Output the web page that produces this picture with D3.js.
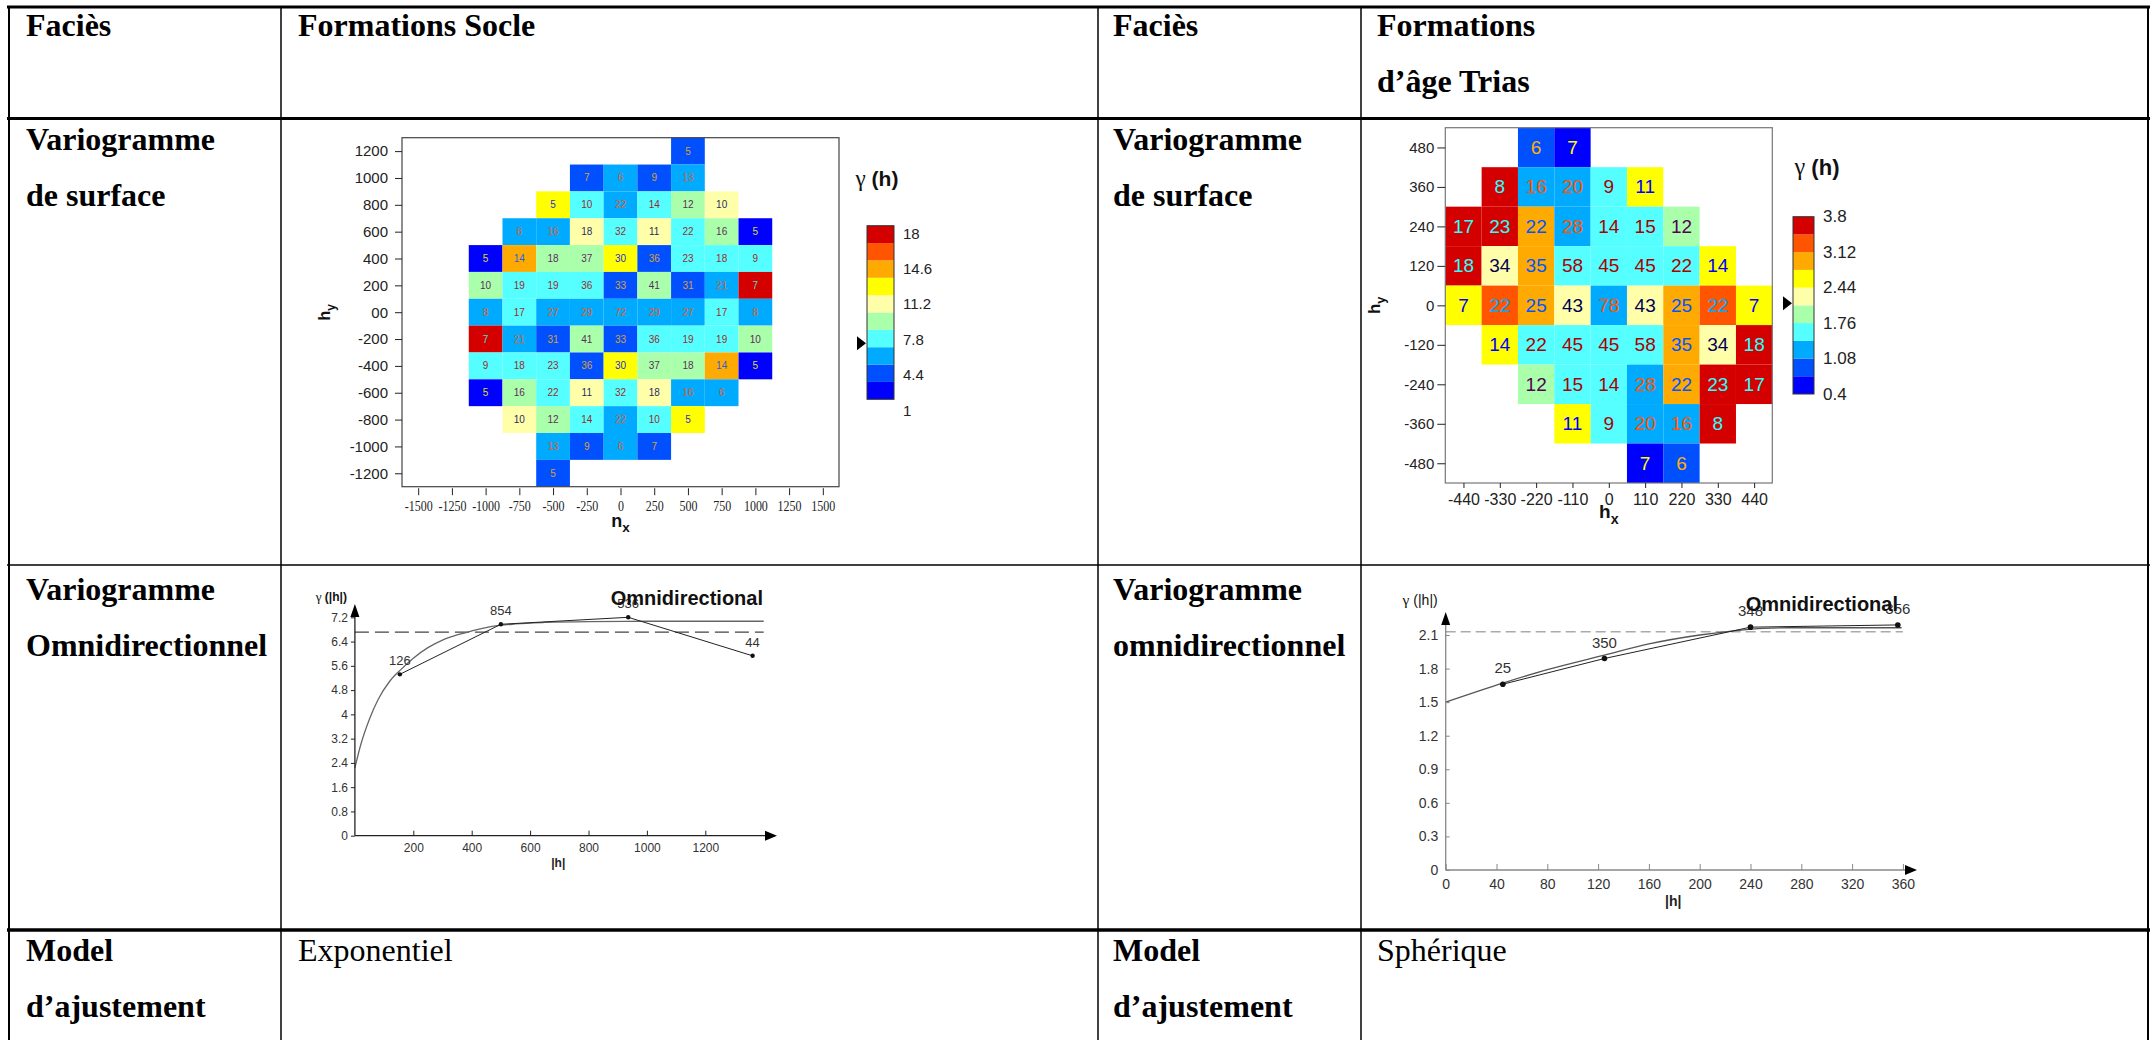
<!DOCTYPE html>
<html>
<head>
<meta charset="utf-8">
<script src="https://cdn.jsdelivr.net/npm/d3@7"></script>
<style>
  html, body { margin: 0; padding: 0; background: #fff; }
  svg { display: block; }
  .serif { font-family: "Liberation Serif", "Times New Roman", serif; }
  .sans { font-family: "Liberation Sans", Arial, sans-serif; }
</style>
</head>
<body>
<svg id="page" width="2152" height="1040"></svg>
<script>
// ---------------- table text ----------------
const leftRowLabels = [["Faciès"], ["Variogramme", "de surface"], ["Variogramme", "Omnidirectionnel"], ["Model", "d’ajustement"]];
const rightRowLabels = [["Faciès"], ["Variogramme", "de surface"], ["Variogramme", "omnidirectionnel"], ["Model", "d’ajustement"]];
const formationTitles = [["Formations Socle"], ["Formations", "d’âge Trias"]];
const modelNames = ["Exponentiel", "Sphérique"];

// ---------------- shared colour classes ----------------
const classColors = ["#0000ff", "#0050ff", "#00aaff", "#55ffff", "#aaffaa", "#ffffaa", "#ffff00", "#ffaa00", "#ff5500", "#d40000"];

// ---------------- Socle : surface variogram ----------------
const socleLagX = [-1000, -750, -500, -250, 0, 250, 500, 750, 1000];
const socleLagY = [1200, 1000, 800, 600, 400, 200, 0, -200, -400, -600, -800, -1000, -1200];
const soclePairs = [
  [null, null, null, null, null, null, 5, null, null],
  [null, null, null, 7, 6, 9, 13, null, null],
  [null, null, 5, 10, 22, 14, 12, 10, null],
  [null, 6, 16, 18, 32, 11, 22, 16, 5],
  [5, 14, 18, 37, 30, 36, 23, 18, 9],
  [10, 19, 19, 36, 33, 41, 31, 21, 7],
  [8, 17, 27, 29, 72, 29, 27, 17, 8],
  [7, 21, 31, 41, 33, 36, 19, 19, 10],
  [9, 18, 23, 36, 30, 37, 18, 14, 5],
  [5, 16, 22, 11, 32, 18, 16, 6, null],
  [null, 10, 12, 14, 22, 10, 5, null, null],
  [null, null, 13, 9, 6, 7, null, null, null],
  [null, null, 5, null, null, null, null, null, null]
];
const socleGamma = [
  [null, null, null, null, null, null, 3.6, null, null],
  [null, null, null, 3.6, 5.3, 3.6, 5.3, null, null],
  [null, null, 12.1, 7.0, 5.3, 7.0, 8.7, 10.4, null],
  [null, 5.3, 5.3, 10.4, 7.0, 10.4, 7.0, 8.7, 1.9],
  [1.9, 13.8, 8.7, 8.7, 12.1, 3.6, 7.0, 7.0, 7.0],
  [8.7, 7.0, 7.0, 7.0, 3.6, 8.7, 3.6, 5.3, 17.2],
  [5.3, 7.0, 5.3, 5.3, 5.3, 5.3, 5.3, 7.0, 5.3],
  [17.2, 5.3, 3.6, 8.7, 3.6, 7.0, 7.0, 7.0, 8.7],
  [7.0, 7.0, 7.0, 3.6, 12.1, 8.7, 8.7, 13.8, 1.9],
  [1.9, 8.7, 7.0, 10.4, 7.0, 10.4, 5.3, 5.3, null],
  [null, 10.4, 8.7, 7.0, 5.3, 7.0, 12.1, null, null],
  [null, null, 5.3, 3.6, 5.3, 3.6, null, null, null],
  [null, null, 3.6, null, null, null, null, null, null]
];
const socleTickX = [-1500, -1250, -1000, -750, -500, -250, 0, 250, 500, 750, 1000, 1250, 1500];
const socleTickY = [1200, 1000, 800, 600, 400, 200, 0, -200, -400, -600, -800, -1000, -1200];
const socleTickYLabels = ["1200", "1000", "800", "600", "400", "200", "00", "-200", "-400", "-600", "-800", "-1000", "-1200"];
const socleLegendTicks = [18, 14.6, 11.2, 7.8, 4.4, 1];
const socleVariance = 6.5;

// ---------------- Trias : surface variogram ----------------
const triasLagX = [-440, -330, -220, -110, 0, 110, 220, 330, 440];
const triasLagY = [480, 360, 240, 120, 0, -120, -240, -360, -480];
const triasPairs = [
  [null, null, 6, 7, null, null, null, null, null],
  [null, 8, 16, 20, 9, 11, null, null, null],
  [17, 23, 22, 28, 14, 15, 12, null, null],
  [18, 34, 35, 58, 45, 45, 22, 14, null],
  [7, 22, 25, 43, 78, 43, 25, 22, 7],
  [null, 14, 22, 45, 45, 58, 35, 34, 18],
  [null, null, 12, 15, 14, 28, 22, 23, 17],
  [null, null, null, 11, 9, 20, 16, 8, null],
  [null, null, null, null, null, 7, 6, null, null]
];
const triasGamma = [
  [null, null, 0.91, 0.57, null, null, null, null, null],
  [null, 3.63, 1.25, 1.25, 1.59, 2.61, null, null, null],
  [3.63, 3.63, 2.95, 1.25, 1.59, 1.59, 1.93, null, null],
  [3.63, 2.27, 2.95, 1.59, 1.59, 1.59, 1.59, 2.61, null],
  [2.61, 3.29, 2.95, 2.27, 1.25, 2.27, 2.95, 3.29, 2.61],
  [null, 2.61, 1.59, 1.59, 1.59, 1.59, 2.95, 2.27, 3.63],
  [null, null, 1.93, 1.59, 1.59, 1.25, 2.95, 3.63, 3.63],
  [null, null, null, 2.61, 1.59, 1.25, 1.25, 3.63, null],
  [null, null, null, null, null, 0.57, 0.91, null, null]
];
const triasTickX = [-440, -330, -220, -110, 0, 110, 220, 330, 440];
const triasTickY = [480, 360, 240, 120, 0, -120, -240, -360, -480];
const triasLegendTicks = [3.8, 3.12, 2.44, 1.76, 1.08, 0.4];
const triasVariance = 2.14;

// ---------------- Socle : omnidirectional variogram ----------------
const socleOmniLag = [154, 500, 936, 1362];
const socleOmniGamma = [5.32, 6.97, 7.2, 5.93];
const socleOmniPairs = [126, 854, 536, 44];
const socleModelLag = [0, 20, 50, 80, 120, 160, 200, 250, 300, 350, 400, 470, 550, 650, 800, 1000, 1200, 1400];
const socleModelGamma = [2.24, 3.0, 3.85, 4.5, 5.1, 5.5, 5.85, 6.2, 6.45, 6.62, 6.75, 6.9, 6.98, 7.03, 7.06, 7.07, 7.07, 7.07];
const socleSill = 6.71;
const socleOmniTickX = [200, 400, 600, 800, 1000, 1200];
const socleOmniTickY = [0, 0.8, 1.6, 2.4, 3.2, 4, 4.8, 5.6, 6.4, 7.2];

// ---------------- Trias : omnidirectional variogram ----------------
const triasOmniLag = [45, 125, 240, 356];
const triasOmniGamma = [1.66, 1.89, 2.17, 2.19];
const triasOmniPairs = [25, 350, 348, 356];
const triasModelLag = [0, 45, 80, 125, 160, 200, 225, 250, 270, 359];
const triasModelGamma = [1.5, 1.67, 1.79, 1.92, 2.02, 2.10, 2.135, 2.16, 2.165, 2.165];
const triasSill = 2.13;
const triasOmniTickX = [0, 40, 80, 120, 160, 200, 240, 280, 320, 360];
const triasOmniTickY = [0, 0.3, 0.6, 0.9, 1.2, 1.5, 1.8, 2.1];

// ============================================================
const svg = d3.select("#page");
const plain = d => String(d);   // plain hyphen-minus, no thousands separator

// ---------- table frame ----------
const colX = [9, 281, 1098, 1361, 2148];
const grid = svg.append("g").attr("stroke", "#000").attr("fill", "none");
colX.forEach((x, i) => {
  grid.append("line").attr("x1", x).attr("x2", x).attr("y1", 6).attr("y2", 1040)
    .attr("stroke-width", (i === 0 || i === colX.length - 1) ? 2 : 1.5);
});
[[7, 3], [118.5, 3.2], [565, 1.5], [930, 3.4]].forEach(([y, w]) => {
  grid.append("line").attr("x1", 7).attr("x2", 2150).attr("y1", y).attr("y2", y).attr("stroke-width", w);
});

// ---------- table text ----------
const rowBase = [36, 150, 600, 961];
const lineStep = 56;
function writeLines(lines, x, y0, bold) {
  lines.forEach((t, k) => {
    svg.append("text").attr("class", "serif")
      .attr("x", x).attr("y", y0 + k * lineStep)
      .attr("font-size", 32).attr("font-weight", bold ? "bold" : "normal")
      .attr("fill", "#000").text(t);
  });
}
leftRowLabels.forEach((lines, r) => writeLines(lines, 26, rowBase[r], true));
rightRowLabels.forEach((lines, r) => writeLines(lines, 1113, rowBase[r], true));
writeLines(formationTitles[0], 298, rowBase[0], true);
writeLines(formationTitles[1], 1377, rowBase[0], true);
writeLines([modelNames[0]], 298, rowBase[3], false);
writeLines([modelNames[1]], 1377, rowBase[3], false);

// ---------- helpers ----------
function invert(c) {
  const k = d3.rgb(c);
  return d3.rgb(255 - k.r, 255 - k.g, 255 - k.b).formatHex();
}
function subLabel(g, x, y, main, sub, size, rotate) {
  const t = g.append("text").attr("class", "sans").attr("font-weight", "bold")
    .attr("font-size", size).attr("fill", "#111").attr("text-anchor", "middle")
    .attr("transform", `translate(${x},${y})` + (rotate ? " rotate(-90)" : ""));
  t.append("tspan").text(main);
  t.append("tspan").attr("font-size", size * 0.75).attr("dy", size * 0.3).text(sub);
}
// "γ" drawn in the serif face, the rest in bold sans
function gammaTitle(g, x, y, rest, size, anchor, weight) {
  const t = g.append("text").attr("x", x).attr("y", y).attr("text-anchor", anchor)
    .attr("font-size", size).attr("fill", "#111");
  t.append("tspan").attr("class", "serif").attr("font-size", size * 1.1).text("γ");
  t.append("tspan").attr("class", "sans").attr("font-weight", weight).text(rest);
}

function drawHeatmap(o) {
  const g = svg.append("g");
  const color = d3.scaleQuantize().domain(o.colorDomain).range(classColors);
  const hx = o.stepX / 2, hy = o.stepY / 2;
  // cells
  o.pairs.forEach((row, r) => row.forEach((n, c) => {
    if (n === null) return;
    const cx = o.lagX[c], cy = o.lagY[r];
    const fill = color(o.gamma[r][c]);
    g.append("rect")
      .attr("x", o.x(cx - hx)).attr("y", o.y(cy + hy))
      .attr("width", o.x(cx + hx) - o.x(cx - hx)).attr("height", o.y(cy - hy) - o.y(cy + hy))
      .attr("fill", fill);
    g.append("text").attr("class", "sans")
      .attr("x", o.x(cx)).attr("y", o.y(cy))
      .attr("text-anchor", "middle").attr("dominant-baseline", "central")
      .attr("font-size", o.cellFont).attr("fill", invert(fill)).attr("opacity", o.textOpacity)
      .text(n);
  }));
  // frame
  const [x0, x1] = o.x.range(), [y0, y1] = o.y.range();
  g.append("rect").attr("x", x0).attr("y", y1).attr("width", x1 - x0).attr("height", y0 - y1)
    .attr("fill", "none").attr("stroke", o.frameColor).attr("stroke-width", 1.2);
  // axes
  const ya = g.append("g").attr("transform", `translate(${x0},0)`)
    .call(d3.axisLeft(o.y).tickValues(o.tickY).tickFormat((d, i) => o.tickYLabels ? o.tickYLabels[i] : plain(d))
      .tickSize(o.tickLenY).tickPadding(o.padY));
  const xa = g.append("g").attr("transform", `translate(0,${y0 + o.gapX})`)
    .call(d3.axisBottom(o.x).tickValues(o.tickX).tickFormat(plain).tickSize(o.tickLenX).tickPadding(o.padX));
  [ya, xa].forEach(a => { a.select(".domain").remove(); a.selectAll("line").attr("stroke", "#222"); });
  ya.selectAll("text").attr("class", "sans").attr("font-size", o.tickFontY).attr("fill", "#222");
  xa.selectAll("text").attr("class", o.tickXClass).attr("font-size", o.tickFontX).attr("fill", "#222")
    .attr("transform", `scale(${o.tickXSquash},1)`);
  // legend
  const ly = d3.scaleLinear().domain(o.colorDomain).range(o.legendRange);
  classColors.forEach(cl => {
    const [lo, hi] = color.invertExtent(cl);
    g.append("rect").attr("x", o.legendX).attr("y", ly(hi))
      .attr("width", o.legendW).attr("height", ly(lo) - ly(hi)).attr("fill", cl);
  });
  g.append("rect").attr("x", o.legendX).attr("y", o.legendRange[1])
    .attr("width", o.legendW).attr("height", o.legendRange[0] - o.legendRange[1])
    .attr("fill", "none").attr("stroke", "#333").attr("stroke-width", 1);
  const labelY = d3.scaleLinear().domain(o.colorDomain).range(o.legendLabelRange);
  o.legendTicks.forEach(v => {
    g.append("text").attr("class", "sans").attr("x", o.legendX + o.legendW + o.legendPad)
      .attr("y", labelY(v)).attr("dominant-baseline", "central")
      .attr("font-size", o.legendFont).attr("fill", "#222").text(v);
  });
  const my = ly(o.variance);
  g.append("path").attr("d", `M${o.legendX - 10},${my - 7}L${o.legendX - 10},${my + 7}L${o.legendX - 1},${my}Z`).attr("fill", "#000");
  gammaTitle(g, o.titleX, o.titleY, " (h)", o.titleFont, "middle", "bold");
  subLabel(g, o.hyX, o.y(0), "h", "y", o.axisTitleFont, true);
  subLabel(g, o.x(0), o.hxY, o.xName, "x", o.axisTitleFont + 2, false);
}

drawHeatmap({
  lagX: socleLagX, lagY: socleLagY, pairs: soclePairs, gamma: socleGamma,
  stepX: 250, stepY: 200, colorDomain: [1, 18],
  x: d3.scaleLinear().domain([-1620, 1620]).range([402, 839]),
  y: d3.scaleLinear().domain([-1300, 1300]).range([486.7, 137.7]),
  cellFont: 10, textOpacity: 0.85, frameColor: "#444",
  tickX: socleTickX, tickY: socleTickY, tickYLabels: socleTickYLabels,
  tickLenY: 7, padY: 7, tickLenX: 7, padX: 5, gapX: 1.5,
  tickFontY: 15, tickFontX: 15, tickXClass: "serif", tickXSquash: 0.8,
  legendX: 867, legendW: 27, legendRange: [399.3, 225.7], legendLabelRange: [410, 233], legendPad: 9,
  legendTicks: socleLegendTicks, legendFont: 15, variance: socleVariance,
  titleX: 877, titleY: 186, titleFont: 21,
  hyX: 330, hxY: 527, axisTitleFont: 16, xName: "n"
});

drawHeatmap({
  lagX: triasLagX, lagY: triasLagY, pairs: triasPairs, gamma: triasGamma,
  stepX: 110, stepY: 120, colorDomain: [0.4, 3.8],
  x: d3.scaleLinear().domain([-495, 495]).range([1445.3, 1772.3]),
  y: d3.scaleLinear().domain([-540, 540]).range([483, 127.7]),
  cellFont: 19, textOpacity: 1, frameColor: "#777",
  tickX: triasTickX, tickY: triasTickY, tickYLabels: null,
  tickLenY: 8, padY: 3, tickLenX: 5, padX: 6, gapX: 0,
  tickFontY: 15, tickFontX: 16, tickXClass: "sans", tickXSquash: 1,
  legendX: 1793, legendW: 21, legendRange: [394, 216.7], legendLabelRange: [394, 216.7], legendPad: 9,
  legendTicks: triasLegendTicks, legendFont: 17, variance: triasVariance,
  titleX: 1817, titleY: 175, titleFont: 22,
  hyX: 1380, hxY: 518, axisTitleFont: 17, xName: "h"
});

// ---------- omnidirectional variograms ----------
function drawOmni(o) {
  const g = svg.append("g");
  const { x, y } = o;
  const [x0, x1] = x.range(), [y0, y1] = y.range();
  // sill (dashed)
  g.append("line").attr("x1", x0).attr("x2", x1).attr("y1", y(o.sill)).attr("y2", y(o.sill))
    .attr("stroke", o.dashColor).attr("stroke-width", o.dashWidth).attr("stroke-dasharray", o.dash);
  // model curve
  const model = o.modelLag.map((h, i) => [h, o.modelGamma[i]]);
  g.append("path").datum(model)
    .attr("d", d3.line().x(d => x(d[0])).y(d => y(d[1])).curve(d3.curveMonotoneX))
    .attr("fill", "none").attr("stroke", o.modelColor).attr("stroke-width", 1.3);
  // experimental points
  const pts = o.lag.map((h, i) => [h, o.gamma[i], o.pairs[i]]);
  g.append("path").datum(pts)
    .attr("d", d3.line().x(d => x(d[0])).y(d => y(d[1])))
    .attr("fill", "none").attr("stroke", "#222").attr("stroke-width", 1);
  g.selectAll("circle.pt").data(pts).join("circle")
    .attr("cx", d => x(d[0])).attr("cy", d => y(d[1])).attr("r", o.dotR).attr("fill", "#111");
  g.selectAll("text.pl").data(pts).join("text").attr("class", "sans")
    .attr("x", d => x(d[0])).attr("y", d => y(d[1]) - o.labelLift)
    .attr("text-anchor", "middle").attr("font-size", o.pointFont).attr("fill", "#333")
    .text(d => d[2]);
  // axes
  const ya = g.append("g").attr("transform", `translate(${x0},0)`)
    .call(d3.axisLeft(y).tickValues(o.tickY).tickFormat(plain).tickSizeInner(o.tickInY).tickSizeOuter(0).tickPadding(o.padY));
  const xa = g.append("g").attr("transform", `translate(0,${y0})`)
    .call(d3.axisBottom(x).tickValues(o.tickX).tickFormat(plain).tickSizeInner(o.tickInX).tickSizeOuter(0).tickPadding(o.padX));
  [ya, xa].forEach(a => { a.select(".domain").remove(); a.selectAll("line").attr("stroke", o.axisColor); });
  ya.selectAll("text").attr("class", "sans").attr("font-size", o.tickFont).attr("fill", "#333");
  xa.selectAll("text").attr("class", "sans").attr("font-size", o.tickFont).attr("fill", "#333");
  // axis lines with arrowheads
  g.append("line").attr("x1", x0).attr("x2", o.xArrowTip - 8).attr("y1", y0).attr("y2", y0)
    .attr("stroke", o.axisColor).attr("stroke-width", 1.3);
  g.append("line").attr("x1", x0).attr("x2", x0).attr("y1", y0).attr("y2", o.yArrowTip + 8)
    .attr("stroke", o.axisColor).attr("stroke-width", 1.3);
  g.append("path").attr("d", `M${o.xArrowTip},${y0}L${o.xArrowTip - 12},${y0 - 5}L${o.xArrowTip - 12},${y0 + 5}Z`).attr("fill", "#000");
  g.append("path").attr("d", `M${x0},${o.yArrowTip}L${x0 - 4.5},${o.yArrowTip + 13}L${x0 + 4.5},${o.yArrowTip + 13}Z`).attr("fill", "#000");
  // titles
  g.append("text").attr("class", "sans").attr("font-weight", "bold")
    .attr("x", o.titleX).attr("y", o.titleY).attr("text-anchor", "end")
    .attr("font-size", 20).attr("fill", "#111").text("Omnidirectional");
  gammaTitle(g, x0 - o.yTitleGap, o.yTitleY, " (|h|)", o.tickFont, "end", o.yTitleWeight);
  g.append("text").attr("class", "sans").attr("font-weight", "bold")
    .attr("x", x((x.domain()[0] + x.domain()[1]) / 2) + o.hOffset).attr("y", o.hY).attr("text-anchor", "middle")
    .attr("font-size", o.tickFont).attr("fill", "#222").text("|h|");
}

drawOmni({
  x: d3.scaleLinear().domain([0, 1400]).range([354.9, 763.7]),
  y: d3.scaleLinear().domain([0, 7.2]).range([835.7, 617.3]),
  lag: socleOmniLag, gamma: socleOmniGamma, pairs: socleOmniPairs,
  modelLag: socleModelLag, modelGamma: socleModelGamma, sill: socleSill,
  tickX: socleOmniTickX, tickY: socleOmniTickY,
  dashColor: "#444", dashWidth: 1.2, dash: "14,6", modelColor: "#666",
  dotR: 2.2, labelLift: 9, pointFont: 13,
  tickInY: 4, padY: 3, tickInX: -5, padX: 8, tickFont: 12, axisColor: "#222",
  xArrowTip: 777, yArrowTip: 604,
  titleX: 763, titleY: 605, yTitleGap: 8, yTitleY: 601, yTitleWeight: "bold",
  hOffset: -1, hY: 867
});

drawOmni({
  x: d3.scaleLinear().domain([0, 360]).range([1445.7, 1902.9]),
  y: d3.scaleLinear().domain([0, 2.1]).range([870, 635]),
  lag: triasOmniLag, gamma: triasOmniGamma, pairs: triasOmniPairs,
  modelLag: triasModelLag, modelGamma: triasModelGamma, sill: triasSill,
  tickX: triasOmniTickX, tickY: triasOmniTickY,
  dashColor: "#aaa", dashWidth: 1.5, dash: "10,5", modelColor: "#555",
  dotR: 2.8, labelLift: 11, pointFont: 15,
  tickInY: -4, padY: 7.5, tickInX: -6, padX: 9, tickFont: 14, axisColor: "#888",
  xArrowTip: 1917, yArrowTip: 612,
  titleX: 1898, titleY: 611, yTitleGap: 8, yTitleY: 605, yTitleWeight: "normal",
  hOffset: -1, hY: 906
});
</script>
</body>
</html>
